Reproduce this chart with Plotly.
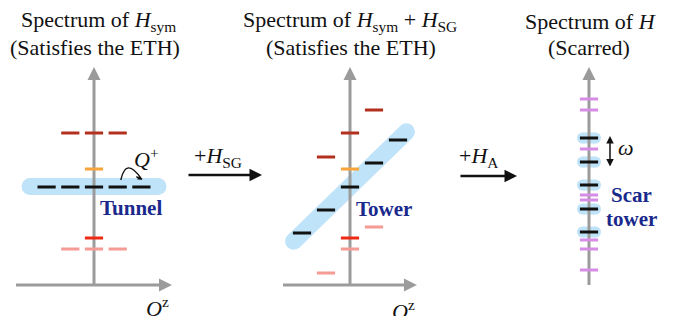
import numpy as np
import plotly.graph_objects as go

W, H = 673, 316
OFF = 8  # the page body has an 8px margin; positions below are in window pixels

# ---------------- data (Qz index, energy in arbitrary units) ----------------
# Panel 1 : spectrum of H_sym
p1_tunnel_qz = [-2, -1, 0, 1, 2]
p1_tunnel_E = [9.8, 9.8, 9.8, 9.8, 9.8]
p1_darkred_qz = [-1, 0, 1]
p1_darkred_E = [15.2, 15.2, 15.2]
p1_orange_qz = [0]
p1_orange_E = [11.6]
p1_red_qz = [0]
p1_red_E = [4.7]
p1_pink_qz = [-1, 0, 1]
p1_pink_E = [3.6, 3.6, 3.6]

# Panel 2 : spectrum of H_sym + H_SG
p2_tower_qz = [-2, -1, 0, 1, 2]
p2_tower_E = [5.2, 7.5, 9.8, 12.2, 14.5]
p2_darkred_qz = [-1, 0, 1]
p2_darkred_E = [12.8, 15.2, 17.5]
p2_orange_qz = [0]
p2_orange_E = [11.6]
p2_red_qz = [0]
p2_red_E = [4.7]
p2_pink_qz = [-1, 0, 1]
p2_pink_E = [1.2, 3.6, 5.8]

# Panel 3 : spectrum of H (scarred)
p3_scar_E = [5.3, 7.6, 10.0, 12.3, 14.7]
p3_other_E = [18.6, 17.5, 13.6, 9.0, 8.5, 4.5, 3.6, 1.5]

# axis extents (data units)
axis_top_E = 21.8
p1_qz_extent = 3.29
p2_qz_extent = 2.79

# ---------------- styles ----------------
C_DARKRED = "#b3301f"
C_ORANGE = "#f7a43c"
C_RED = "#ee2a14"
C_PINK = "#f59a94"
C_PURPLE = "#d78ce6"
C_BLACK = "#111111"
C_BAND = "#bfe3f8"
C_NAVY = "#1a2a8c"
C_AXIS = "#9b9b9b"
SERIF = "Liberation Serif, Times New Roman, serif"

fig = go.Figure()


def dashes(qz, E, color, xa):
    fig.add_trace(go.Scatter(
        x=qz, y=E, mode="markers", xaxis=xa, yaxis="y", cliponaxis=False,
        hoverinfo="skip",
        marker=dict(symbol="line-ew", size=13, color=color,
                    line=dict(color=color, width=3))))


def band(x, y, width, xa):
    fig.add_trace(go.Scatter(
        x=x, y=y, mode="lines+markers", xaxis=xa, yaxis="y", cliponaxis=False,
        hoverinfo="skip", line=dict(color=C_BAND, width=width),
        marker=dict(symbol="circle", size=width, color=C_BAND, line=dict(width=0))))


def axis_line(x, y, xa, tip_symbol, tip):
    fig.add_trace(go.Scatter(
        x=x, y=y, mode="lines", xaxis=xa, yaxis="y", cliponaxis=False,
        hoverinfo="skip", line=dict(color=C_AXIS, width=3)))
    fig.add_trace(go.Scatter(
        x=[tip[0]], y=[tip[1]], mode="markers", xaxis=xa, yaxis="y",
        cliponaxis=False, hoverinfo="skip",
        marker=dict(symbol=tip_symbol, size=13, color=C_AXIS, line=dict(width=0))))


# ---- bands (behind everything) ----
t0 = p1_tunnel_E[0]
band([-2.7, 2.7], [t0 + 0.05, t0 + 0.05], 17, "x")

slope, icpt = np.polyfit(p2_tower_qz, p2_tower_E, 1)
band([-2.35, 2.35], [icpt - 2.35 * slope, icpt + 2.35 * slope], 17, "x2")

px3, py3 = [], []
for e in p3_scar_E:
    px3 += [-0.27, 0.27, None]
    py3 += [e, e, None]
band(px3, py3, 11, "x3")

# ---- axes ----
axis_line([0, 0], [0, axis_top_E - 0.6], "x", "arrow-up", (0, axis_top_E))
axis_line([-p1_qz_extent, p1_qz_extent - 0.25], [0, 0], "x", "arrow-right", (p1_qz_extent, 0))
axis_line([0, 0], [0, axis_top_E - 0.6], "x2", "arrow-up", (0, axis_top_E))
axis_line([-p2_qz_extent, p2_qz_extent - 0.25], [0, 0], "x2", "arrow-right", (p2_qz_extent, 0))
axis_line([0, 0], [0, axis_top_E - 0.6], "x3", "arrow-up", (0, axis_top_E))

# ---- levels ----
dashes(p1_darkred_qz, p1_darkred_E, C_DARKRED, "x")
dashes(p1_orange_qz, p1_orange_E, C_ORANGE, "x")
dashes(p1_tunnel_qz, p1_tunnel_E, C_BLACK, "x")
dashes(p1_red_qz, p1_red_E, C_RED, "x")
dashes(p1_pink_qz, p1_pink_E, C_PINK, "x")

dashes(p2_darkred_qz, p2_darkred_E, C_DARKRED, "x2")
dashes(p2_orange_qz, p2_orange_E, C_ORANGE, "x2")
dashes(p2_tower_qz, p2_tower_E, C_BLACK, "x2")
dashes(p2_red_qz, p2_red_E, C_RED, "x2")
dashes(p2_pink_qz, p2_pink_E, C_PINK, "x2")

dashes([0] * len(p3_other_E), p3_other_E, C_PURPLE, "x3")
dashes([0] * len(p3_scar_E), p3_scar_E, C_BLACK, "x3")

# ---- Q+ hopping arc (from Qz=1 to Qz=2 on the tunnel level) ----
q_from, q_to = 1, 2
sx, sy = q_from + 0.13, t0 + 0.7
ex, ey = q_to + 0.02, t0 + 0.75
cx, cy = q_from + 0.35, t0 + 3.1
shapes = [dict(type="path", xref="x", yref="y",
               path=f"M {sx},{sy} Q {cx},{cy} {ex},{ey}",
               line=dict(color=C_BLACK, width=1.4))]

annotations = []


def px(x):
    return (x - OFF) / W


def py(y):
    return 1 - (y - OFF) / H


def text(x, y, s, size=22, color=C_BLACK, family=SERIF):
    annotations.append(dict(x=px(x), y=py(y), xref="paper", yref="paper",
                            text=s, showarrow=False, xanchor="center",
                            yanchor="middle",
                            font=dict(family=family, size=size, color=color)))


# arrowhead of the arc
annotations.append(dict(x=ex, y=ey, xref="x", yref="y", axref="x", ayref="y",
                        ax=ex - 0.3, ay=ey + 0.35, text="", showarrow=True,
                        arrowhead=2, arrowsize=0.6, arrowwidth=1.4,
                        arrowcolor=C_BLACK))

# omega double arrow (spacing of scar tower)
annotations.append(dict(x=0.875, y=p3_scar_E[4] + 0.2, xref="x3", yref="y",
                        axref="x3", ayref="y", ax=0.875, ay=p3_scar_E[3] - 0.6,
                        text="", showarrow=True, arrowhead=2, arrowside="end+start",
                        arrowsize=1.0, arrowwidth=1.5, arrowcolor=C_BLACK))

# titles
text(98, 21, "Spectrum of <i>H</i><sub>sym</sub>")
text(95, 47, "(Satisfies the ETH)")
text(350, 21, "Spectrum of <i>H</i><sub>sym</sub> + <i>H</i><sub>SG</sub>")
text(351, 47, "(Satisfies the ETH)")
text(590, 21, "Spectrum of <i>H</i>")
text(589, 47, "(Scarred)")

# transition arrows
annotations.append(dict(x=px(262), y=py(175), xref="paper", yref="paper",
                        ax=-75, ay=0, text="", showarrow=True, arrowhead=2,
                        arrowsize=1.0, arrowwidth=2.5, arrowcolor=C_BLACK))
annotations.append(dict(x=px(517), y=py(176), xref="paper", yref="paper",
                        ax=-58, ay=0, text="", showarrow=True, arrowhead=2,
                        arrowsize=1.0, arrowwidth=2.5, arrowcolor=C_BLACK))
text(218, 157, "+<i>H</i><sub>SG</sub>")
text(479, 157, "+<i>H</i><sub>A</sub>")

# labels
text(146, 158, "<i>Q</i><sup>+</sup>")
text(131, 208, "<b>Tunnel</b>", size=21, color=C_NAVY)
text(384, 209, "<b>Tower</b>", size=21, color=C_NAVY)
text(631, 195, "<b>Scar</b>", size=21, color=C_NAVY)
text(631, 219, "<b>tower</b>", size=21, color=C_NAVY)
text(626, 148, "<i>ω</i>")
text(157, 307, "<i>Q</i><sup>z</sup>")
text(403, 310, "<i>Q</i><sup>z</sup>")

# ---------------- layout ----------------
u1 = 23.7   # pixels per Qz unit, panel 1
u2 = 24.0   # pixels per Qz unit, panels 2-3
E_PX = 10.0  # pixels per energy unit
E_ZERO_Y = 285  # window y of E = 0


def dom(a, b):
    return [(a - OFF) / W, (b - OFF) / W]


fig.update_layout(
    width=W, height=H, margin=dict(l=0, r=0, t=0, b=0),
    paper_bgcolor="white", plot_bgcolor="white", showlegend=False,
    xaxis=dict(domain=dom(8, 230), range=[(8 - 94) / u1, (230 - 94) / u1],
               visible=False, anchor="y", fixedrange=True),
    xaxis2=dict(domain=dom(230, 450), range=[(230 - 350) / u2, (450 - 350) / u2],
                visible=False, anchor="y", fixedrange=True),
    xaxis3=dict(domain=dom(450, 673), range=[(450 - 589) / u2, (673 - 589) / u2],
                visible=False, anchor="y", fixedrange=True),
    yaxis=dict(domain=[0, 1],
               range=[(E_ZERO_Y - (OFF + H)) / E_PX, (E_ZERO_Y - OFF) / E_PX],
               visible=False, fixedrange=True),
    shapes=shapes, annotations=annotations,
)

fig.write_html("out.html")
